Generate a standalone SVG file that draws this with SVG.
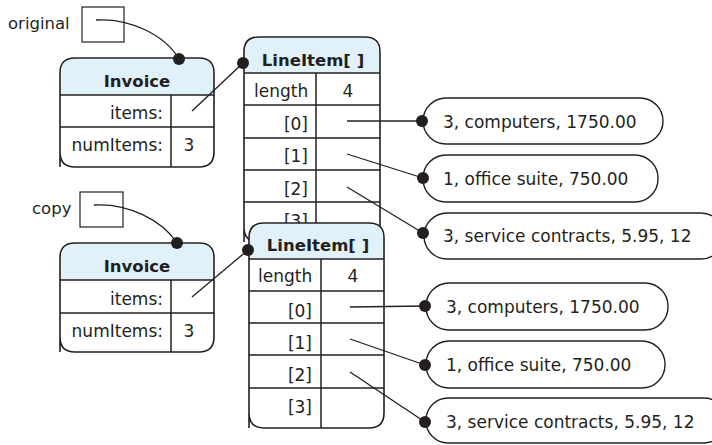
<svg xmlns="http://www.w3.org/2000/svg" width="712" height="445" viewBox="0 0 712 445">
<style>
text{font-family:"DejaVu Sans","Liberation Sans",sans-serif;font-size:17px;fill:#231f20}
.b{font-weight:bold;font-size:16.5px}
.box{fill:#fff;stroke:#231f20;stroke-width:1.6}
.hdr{fill:#e0f1f9}
.ln{stroke:#231f20;stroke-width:1.5;fill:none}
.var{fill:#fff;stroke:#231f20;stroke-width:1.2}
.con{stroke:#231f20;stroke-width:1.3;fill:none}
.dot{fill:#231f20}
.r{text-anchor:end}
.m{text-anchor:middle}
.ov{fill:#fff;stroke:#231f20;stroke-width:1.4}
</style>

<g id="var-original">
<text x="8" y="29" style="font-size:16.5px">original</text>
<rect class="var" x="82" y="7" width="42" height="35"/>
</g>

<g id="invoice1">
<path class="box" d="M60,167 V73 Q60,58 75,58 H199 Q214,58 214,73 V152 Q214,167 199,167 H75 Q60,167 60,152 Z"/>
<path class="hdr" d="M61,95 V73 Q61,59 75,59 H199 Q213,59 213,73 V95 Z"/>
<path class="ln" d="M60,95 H214 M60,127 H214 M171,95 V167"/>
<text class="b m" x="137" y="87">Invoice</text>
<text class="r" x="163" y="119">items:</text>
<text class="r" x="163" y="151">numItems:</text>
<text class="m" x="189" y="151">3</text>
</g>

<g id="lineitems1">
<path class="box" d="M244,242 V52 Q244,37 259,37 H365 Q380,37 380,52 V227 Q380,242 365,242 H259 Q244,242 244,227 Z"/>
<path class="hdr" d="M245,73 V52 Q245,38 259,38 H365 Q379,38 379,52 V73 Z"/>
<path class="ln" d="M244,73 H380 M244,105 H380 M244,138 H380 M244,170 H380 M244,202 H380 M316,73 V242"/>
<text class="b m" x="313" y="66">LineItem[ ]</text>
<text x="254" y="97">length</text>
<text class="m" x="348" y="97">4</text>
<text class="r" x="308" y="130">[0]</text>
<text class="r" x="308" y="162">[1]</text>
<text class="r" x="308" y="195">[2]</text>
<text class="r" x="308" y="227">[3]</text>
</g>

<g id="var-copy">
<text x="32" y="214" style="font-size:16.5px">copy</text>
<rect class="var" x="80" y="192" width="43" height="35"/>
</g>

<g id="invoice2">
<path class="box" d="M60,352 V258 Q60,243 75,243 H199 Q214,243 214,258 V337 Q214,352 199,352 H75 Q60,352 60,337 Z"/>
<path class="hdr" d="M61,280 V258 Q61,244 75,244 H199 Q213,244 213,258 V280 Z"/>
<path class="ln" d="M60,280 H214 M60,313 H214 M171,280 V352"/>
<text class="b m" x="137" y="272">Invoice</text>
<text class="r" x="163" y="305">items:</text>
<text class="r" x="163" y="337">numItems:</text>
<text class="m" x="189" y="337">3</text>
</g>

<g id="lineitems2">
<path class="box" d="M249,428 V238 Q249,223 264,223 H369 Q384,223 384,238 V413 Q384,428 369,428 H264 Q249,428 249,413 Z"/>
<path class="hdr" d="M250,259 V238 Q250,224 264,224 H369 Q383,224 383,238 V259 Z"/>
<path class="ln" d="M249,259 H384 M249,291 H384 M249,323 H384 M249,355 H384 M249,388 H384 M321,259 V428"/>
<text class="b m" x="318" y="251">LineItem[ ]</text>
<text x="258" y="282">length</text>
<text class="m" x="353" y="282">4</text>
<text class="r" x="312" y="317">[0]</text>
<text class="r" x="312" y="349">[1]</text>
<text class="r" x="312" y="381">[2]</text>
<text class="r" x="312" y="413">[3]</text>
</g>

<g id="item1a"><rect class="ov" x="423" y="98" width="240" height="46" rx="23"/><text x="443" y="128">3, computers, 1750.00</text></g>
<g id="item2a"><rect class="ov" x="423" y="155" width="235" height="47" rx="23"/><text x="443" y="185">1, office suite, 750.00</text></g>
<g id="item3a"><rect class="ov" x="424" y="213" width="300" height="46" rx="23"/><text x="443" y="242">3, service contracts, 5.95, 12</text></g>
<g id="item1b"><rect class="ov" x="426" y="283" width="242" height="47" rx="23"/><text x="446" y="313">3, computers, 1750.00</text></g>
<g id="item2b"><rect class="ov" x="426" y="341" width="239" height="47" rx="23"/><text x="446" y="371">1, office suite, 750.00</text></g>
<g id="item3b"><rect class="ov" x="426" y="398" width="300" height="45" rx="22"/><text x="446" y="428">3, service contracts, 5.95, 12</text></g>

<g id="connectors">
<path class="con" d="M96,20 C130,18 165,35 179,59"/>
<path class="con" d="M94,205 C128,203 162,220 177,243"/>
<path class="con" d="M192,111 L243,63"/>
<path class="con" d="M192,297 L248,250"/>
<path class="con" d="M347,121 L422,121"/>
<path class="con" d="M347,154 L423,178"/>
<path class="con" d="M347,187 L423,233"/>
<path class="con" d="M350,307 L425,306"/>
<path class="con" d="M350,339 L425,365"/>
<path class="con" d="M350,372 L425,422"/>
<circle class="dot" cx="179" cy="59" r="6"/>
<circle class="dot" cx="177" cy="243" r="6"/>
<circle class="dot" cx="243" cy="63" r="6"/>
<circle class="dot" cx="248" cy="250" r="6"/>
<circle class="dot" cx="422" cy="121" r="6"/>
<circle class="dot" cx="423" cy="178" r="6"/>
<circle class="dot" cx="423" cy="233" r="6"/>
<circle class="dot" cx="425" cy="306" r="6"/>
<circle class="dot" cx="425" cy="365" r="6"/>
<circle class="dot" cx="425" cy="422" r="6"/>
</g>
</svg>
